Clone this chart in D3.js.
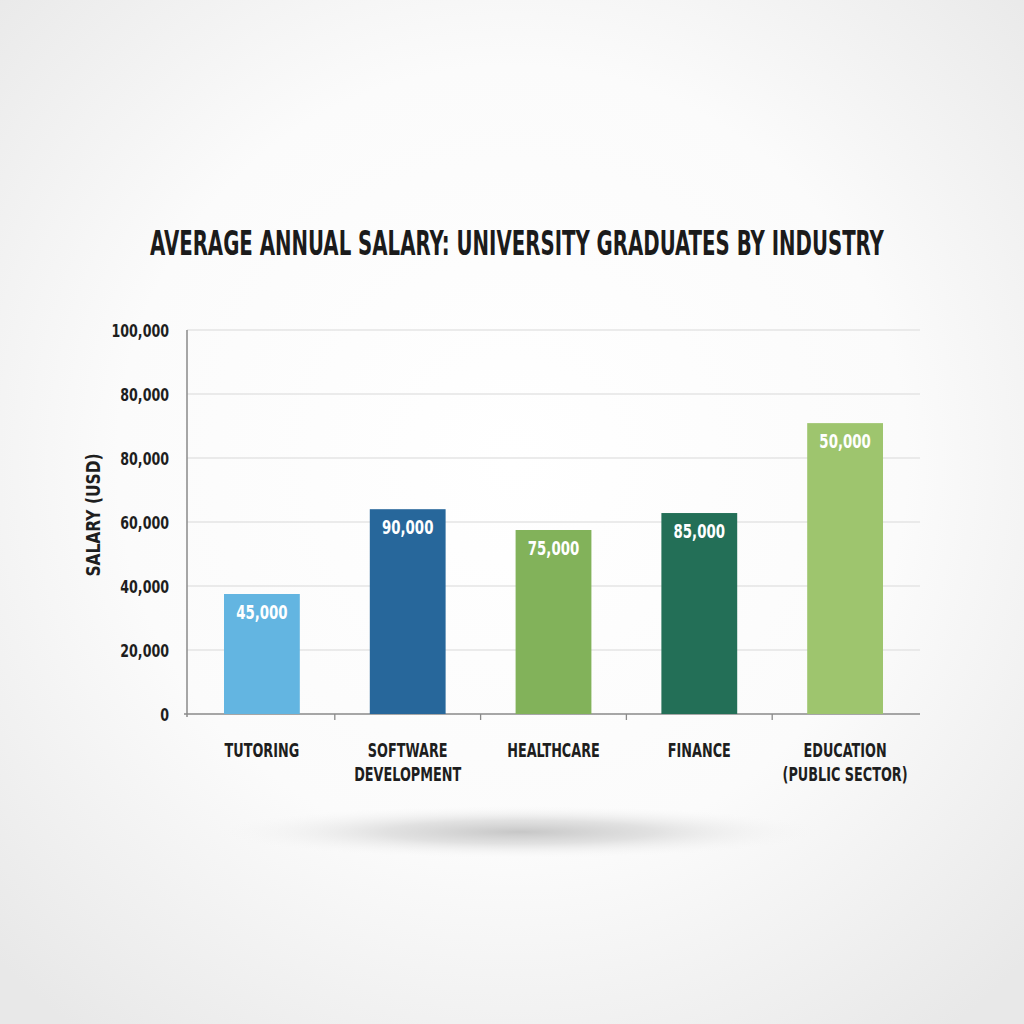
<!DOCTYPE html>
<html>
<head>
<meta charset="utf-8">
<script src="https://cdn.jsdelivr.net/npm/d3@7"></script>
<style>
  html, body { margin: 0; padding: 0; }
  body { width: 1024px; height: 1024px; overflow: hidden; }
  text { font-family: "DejaVu Sans Condensed", "Liberation Sans Narrow", "Roboto", sans-serif; }
</style>
</head>
<body>
<script>
// ---- data ----
const categories = ["TUTORING", "SOFTWARE DEVELOPMENT", "HEALTHCARE", "FINANCE", "EDUCATION (PUBLIC SECTOR)"];
const categoryLines = [["TUTORING"], ["SOFTWARE", "DEVELOPMENT"], ["HEALTHCARE"], ["FINANCE"], ["EDUCATION", "(PUBLIC SECTOR)"]];
// bar heights as drawn against the gridlines (gridline units of 20,000)
const barHeights = [37500, 64000, 57500, 62800, 90900];
// value labels printed on the bars
const barLabels = ["45,000", "90,000", "75,000", "85,000", "50,000"];
const barColors = ["#63b5e1", "#27679b", "#82b25a", "#236f57", "#9ec56e"];
const tickValues = [0, 20000, 40000, 60000, 80000, 100000, 120000];
const tickLabels = ["0", "20,000", "40,000", "60,000", "80,000", "80,000", "100,000"];
const chartTitle = "AVERAGE ANNUAL SALARY: UNIVERSITY GRADUATES BY INDUSTRY";
const yTitle = "SALARY (USD)";

(function () {
const W = 1024, H = 1024;
const svg = d3.select("body").append("svg").attr("width", W).attr("height", H);
const defs = svg.append("defs");

function condense(sel, k) {
  sel.each(function () {
    const len = this.getComputedTextLength();
    d3.select(this).attr("textLength", len * k).attr("lengthAdjust", "spacingAndGlyphs");
  });
}

const bg = defs.append("radialGradient").attr("id", "bg").attr("cx", "50%").attr("cy", "45%").attr("r", "70%");
bg.append("stop").attr("offset", "0%").attr("stop-color", "#ffffff");
bg.append("stop").attr("offset", "55%").attr("stop-color", "#fbfbfb");
bg.append("stop").attr("offset", "100%").attr("stop-color", "#e8e8e8");
svg.append("rect").attr("width", W).attr("height", H).attr("fill", "url(#bg)");

// shadow under chart
const sh = defs.append("radialGradient").attr("id", "sh");
sh.append("stop").attr("offset", "0%").attr("stop-color", "#c4c4c4").attr("stop-opacity", 0.95);
sh.append("stop").attr("offset", "45%").attr("stop-color", "#d6d6d6").attr("stop-opacity", 0.7);
sh.append("stop").attr("offset", "100%").attr("stop-color", "#f4f4f4").attr("stop-opacity", 0);
svg.append("ellipse").attr("cx", 520).attr("cy", 832).attr("rx", 300).attr("ry", 26).attr("fill", "url(#sh)");

const mLeft = 187, mRight = 920, mTop = 330, mBottom = 714;
const y = d3.scaleLinear().domain([0, 120000]).range([mBottom, mTop]);
const x = d3.scaleBand().domain(categories).range([189, 918]).paddingInner(0.48).paddingOuter(0.24);

// gridlines
svg.append("g").selectAll("line").data(tickValues.slice(1)).join("line")
  .attr("x1", mLeft).attr("x2", mRight)
  .attr("y1", d => y(d)).attr("y2", d => y(d))
  .attr("stroke", "#e4e4e4").attr("stroke-width", 1.3);

// y axis
const yAxis = d3.axisLeft(y).tickValues(tickValues).tickSize(0).tickPadding(18)
  .tickFormat((d, i) => tickLabels[i]);
const gy = svg.append("g").attr("transform", `translate(${mLeft},0)`).call(yAxis);
gy.attr("font-family", null);
gy.select(".domain").attr("stroke", "#8a8a8a").attr("stroke-width", 1.5).attr("d", `M0,${mTop}V${mBottom + 3}`);
const yt = gy.selectAll("text").attr("font-size", 18).attr("font-weight", "bold").attr("fill", "#1e1e1e").attr("dy", "0.35em");
condense(yt, 0.78);

// x axis baseline and ticks between bands
svg.append("line").attr("x1", mLeft - 3).attr("x2", mRight).attr("y1", mBottom).attr("y2", mBottom)
  .attr("stroke", "#8a8a8a").attr("stroke-width", 1.5);
const step = x.step();
svg.append("g").selectAll("line").data(categories.slice(1)).join("line")
  .attr("x1", d => x(d) - step * x.paddingInner() / 2)
  .attr("x2", d => x(d) - step * x.paddingInner() / 2)
  .attr("y1", mBottom).attr("y2", mBottom + 6)
  .attr("stroke", "#8a8a8a").attr("stroke-width", 1.3);

// bars
svg.append("g").selectAll("rect").data(categories).join("rect")
  .attr("x", d => x(d)).attr("width", x.bandwidth())
  .attr("y", (d, i) => y(barHeights[i]))
  .attr("height", (d, i) => y(0) - y(barHeights[i]))
  .attr("fill", (d, i) => barColors[i]);

// bar labels
const bl = svg.append("g").selectAll("text").data(categories).join("text")
  .attr("x", d => x(d) + x.bandwidth() / 2)
  .attr("y", (d, i) => y(barHeights[i]) + 25)
  .attr("text-anchor", "middle").attr("font-size", 19).attr("font-weight", "bold")
  .attr("fill", "#ffffff")
  .text((d, i) => barLabels[i]);
condense(bl, 0.78);

// category labels (one text per line)
const catData = [];
categories.forEach((c, i) => categoryLines[i].forEach((line, j) => catData.push({ c, line, j })));
const cl = svg.append("g").selectAll("text").data(catData).join("text")
  .attr("x", d => x(d.c) + x.bandwidth() / 2)
  .attr("y", d => 757 + d.j * 24)
  .attr("text-anchor", "middle").attr("font-size", 19).attr("font-weight", "bold").attr("fill", "#1e1e1e")
  .text(d => d.line);
condense(cl, 0.75);

// title (horizontally compressed via transform so it fits 734px)
const tt = svg.append("text").attr("x", 0).attr("y", 0).attr("text-anchor", "middle")
  .attr("font-size", 33).attr("font-weight", "bold").attr("fill", "#1b1b1b")
  .text(chartTitle);
const tLen = tt.node().getComputedTextLength();
tt.attr("transform", `translate(517,255) scale(${734 / tLen},1)`);

// y title
const ytl = svg.append("text").attr("transform", "translate(100,515) rotate(-90)")
  .attr("text-anchor", "middle").attr("font-size", 20).attr("font-weight", "bold").attr("fill", "#1e1e1e")
  .text(yTitle);
condense(ytl, 0.86);
})();
</script>
</body>
</html>
